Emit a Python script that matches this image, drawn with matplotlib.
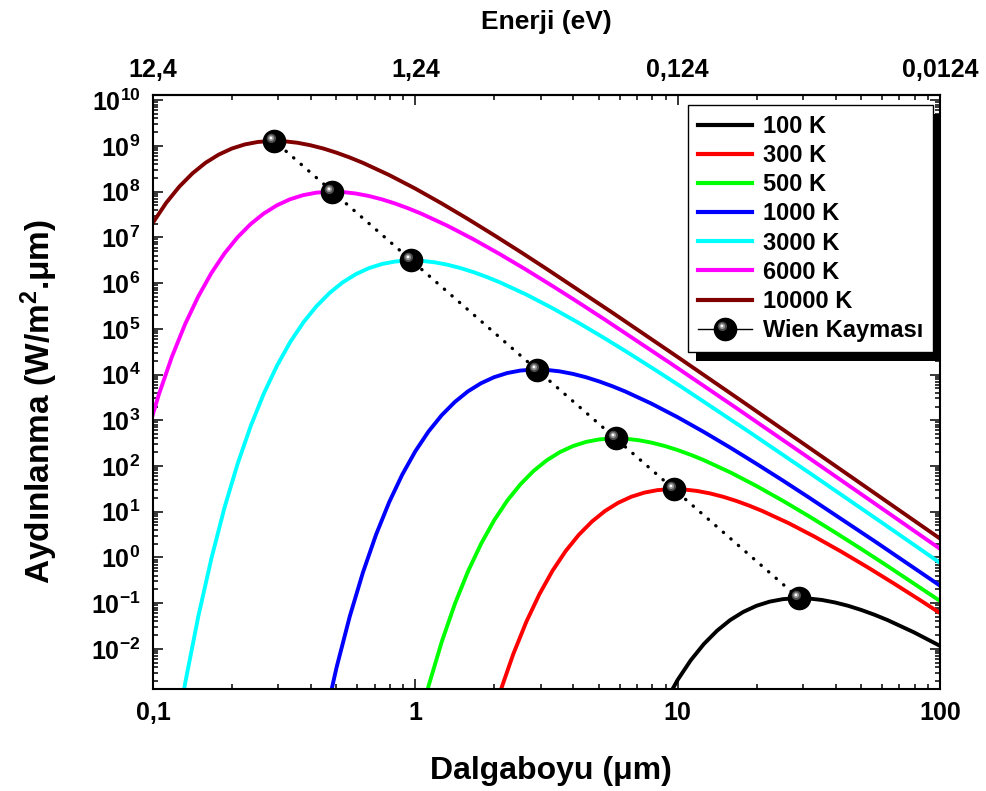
import matplotlib
matplotlib.use("Agg")
import matplotlib.pyplot as plt
import numpy as np
from matplotlib.lines import Line2D
from matplotlib.patches import Rectangle
from matplotlib.path import Path
from matplotlib.ticker import FuncFormatter, LogLocator, NullFormatter

plt.rcParams["font.family"] = ["Liberation Sans", "DejaVu Sans"]
plt.rcParams["font.weight"] = "bold"
plt.rcParams["axes.labelweight"] = "bold"
plt.rcParams["mathtext.fontset"] = "custom"
plt.rcParams["mathtext.rm"] = "Liberation Sans:bold"
plt.rcParams["mathtext.bf"] = "Liberation Sans:bold"
plt.rcParams["mathtext.it"] = "Liberation Sans:bold:italic"

# spectral exitance curves, W/m2.um
WL_100K = [8.913, 10.0, 11.22, 12.59, 14.13, 15.85, 17.78, 19.95, 22.39, 25.12,
           28.18, 31.62, 35.48, 39.81, 44.67, 50.12, 56.23, 63.10, 79.43, 100.0]
M_100K = [6.486e-4, 2.109e-3, 5.675e-3, 1.285e-2, 2.506e-2, 4.276e-2, 6.442e-2,
          8.750e-2, 0.1079, 0.1222, 0.1285, 0.1265, 0.1175, 0.1035, 8.750e-2,
          7.096e-2, 5.585e-2, 4.266e-2, 2.312e-2, 1.164e-2]

WL_300K = [1.874, 2.103, 2.360, 2.648, 2.971, 3.333, 3.740, 4.197, 4.710, 5.283,
           5.927, 6.650, 7.463, 8.373, 9.393, 10.54, 11.83, 13.27, 14.89, 16.71,
           18.74, 21.03, 26.48, 33.33, 41.96, 52.83, 66.51, 83.73, 105.4]
M_300K = [1.249e-4, 1.137e-3, 7.632e-3, 3.914e-2, 0.1576, 0.5130, 1.379, 3.124,
          6.095, 10.38, 15.66, 21.25, 26.19, 29.68, 31.21, 30.72, 28.53, 25.18,
          21.26, 17.26, 13.57, 10.36, 5.618, 2.828, 1.346, 0.6149, 0.2721,
          0.1176, 0.04990]

WL_500K = [1.002, 1.125, 1.262, 1.416, 1.589, 1.783, 2.0, 2.244, 2.518, 2.825,
           3.170, 3.556, 3.990, 4.477, 5.024, 5.636, 6.325, 7.096, 7.962, 8.934,
           10.02, 11.25, 12.62, 15.89, 20.0, 25.18, 31.70, 39.91, 50.24, 63.25,
           112.5]
M_500K = [1.256e-4, 1.606e-3, 1.462e-2, 9.815e-2, 0.5034, 2.027, 6.597, 17.74,
          40.17, 78.43, 133.5, 201.5, 273.3, 336.9, 381.6, 401.3, 395.0, 366.8,
          323.8, 273.4, 222.0, 174.5, 133.2, 72.24, 36.37, 17.31, 7.910, 3.499,
          1.513, 0.6417, 7.131e-2]

WL_1000K = [0.4467, 0.5012, 0.5623, 0.6310, 0.7079, 0.7943, 0.8913, 1.0, 1.122,
            1.259, 1.413, 1.585, 1.778, 1.995, 2.239, 2.512, 2.818, 3.162, 3.548,
            3.981, 4.467, 5.012, 5.623, 6.310, 7.943, 10.0, 12.59, 15.85, 19.95,
            25.12, 31.62, 56.23, 100.0]
M_1000K = [2.158e-4, 4.018e-3, 5.140e-2, 0.4677, 3.141, 16.11, 64.86, 210.9,
           567.5, 1285, 2506, 4276, 6442, 8750, 1.079e4, 1.222e4, 1.285e4,
           1.265e4, 1.175e4, 1.035e4, 8750, 7096, 5585, 4266, 2312, 1164, 553.4,
           252.9, 111.9, 48.42, 20.51, 2.280, 0.2415]

WL_3000K = [0.1183, 0.1327, 0.1489, 0.1671, 0.1874, 0.2103, 0.2360, 0.2648,
            0.2971, 0.3333, 0.3740, 0.4197, 0.4710, 0.5283, 0.5927, 0.6650,
            0.7463, 0.8373, 0.9393, 1.054, 1.183, 1.327, 1.489, 1.671, 1.874,
            2.103, 2.648, 3.333, 4.196, 5.283, 6.651, 8.373, 10.54, 18.74, 33.33,
            59.28, 105.4]
M_3000K = [3.960e-5, 1.830e-3, 5.244e-2, 0.9763, 12.49, 113.7, 763.2, 3914,
           1.576e4, 5.130e4, 1.379e5, 3.124e5, 6.095e5, 1.038e6, 1.566e6,
           2.125e6, 2.619e6, 2.968e6, 3.121e6, 3.072e6, 2.853e6, 2.518e6,
           2.126e6, 1.726e6, 1.357e6, 1.036e6, 5.618e5, 2.828e5, 1.346e5,
           6.149e4, 2.721e4, 1.176e4, 4990, 554.6, 58.75, 6.067, 0.6177]

WL_6000K = [0.09372, 0.1052, 0.1180, 0.1324, 0.1486, 0.1667, 0.1870, 0.2098,
            0.2355, 0.2642, 0.2963, 0.3325, 0.3732, 0.4187, 0.4697, 0.5270,
            0.5913, 0.6635, 0.7445, 0.8353, 0.9372, 1.052, 1.324, 1.667, 2.098,
            2.642, 3.326, 4.187, 5.271, 9.372, 16.67, 29.64, 52.70, 93.72, 166.7]
M_6000K = [399.7, 3637, 2.442e4, 1.253e5, 5.044e5, 1.642e6, 4.413e6, 9.995e6,
           1.951e7, 3.322e7, 5.013e7, 6.801e7, 8.380e7, 9.497e7, 9.986e7,
           9.829e7, 9.130e7, 8.058e7, 6.804e7, 5.526e7, 4.341e7, 3.315e7,
           1.798e7, 9.050e6, 4.308e6, 1.968e6, 8.709e5, 3.764e5, 1.597e5,
           1.775e4, 1881, 194.2, 19.77, 1.997, 0.2009]

WL_10000K = [0.1, 0.1122, 0.1259, 0.1413, 0.1585, 0.1778, 0.1995, 0.2239, 0.2512,
             0.2818, 0.3162, 0.3548, 0.3981, 0.4467, 0.5012, 0.5623, 0.6310,
             0.7943, 1.0, 1.259, 1.585, 1.995, 2.512, 3.162, 5.623, 10.0, 17.78,
             31.62, 56.23, 100.0]
M_10000K = [2.109e7, 5.675e7, 1.285e8, 2.506e8, 4.276e8, 6.442e8, 8.750e8,
            1.079e9, 1.222e9, 1.285e9, 1.265e9, 1.175e9, 1.035e9, 8.750e8,
            7.096e8, 5.585e8, 4.266e8, 2.312e8, 1.164e8, 5.534e7, 2.529e7,
            1.119e7, 4.842e6, 2.051e6, 2.280e5, 2.415e4, 2495, 254.1, 25.64,
            2.582]

# Wien displacement peaks
WIEN_WL = [28.98, 9.66, 5.796, 2.898, 0.966, 0.483, 0.2898]
WIEN_M = [0.1287, 31.27, 402.1, 1.287e4, 3.127e6, 1.001e8, 1.287e9]

LABELS = ["100 K", "300 K", "500 K", "1000 K", "3000 K", "6000 K", "10000 K"]
COLORS = ["#000000", "#ff0000", "#00ff00", "#0000ff", "#00ffff", "#ff00ff", "#800000"]
CURVES = [(WL_100K, M_100K), (WL_300K, M_300K), (WL_500K, M_500K),
          (WL_1000K, M_1000K), (WL_3000K, M_3000K), (WL_6000K, M_6000K),
          (WL_10000K, M_10000K)]

X_TICKS = [0.1, 1, 10, 100]
X_LABELS = ["0,1", "1", "10", "100"]
ENERGY_LABELS = ["12,4", "1,24", "0,124", "0,0124"]
Y_TICKS = [10.0 ** k for k in range(-2, 11)]


def spot_marker(center, radius):
    # the two corner moves fix the marker scale so the spot stays off-centre
    frame = Path([(-1, -1), (1, 1)], [Path.MOVETO, Path.MOVETO])
    return Path.make_compound_path(frame, Path.circle(center, radius))


HL_OUTER = spot_marker((-0.28, 0.28), 0.42)
HL_MID = spot_marker((-0.3, 0.3), 0.26)
HL_INNER = spot_marker((-0.32, 0.32), 0.12)
MS = 16
HL_LAYERS = [(HL_OUTER, "0.3"), (HL_MID, "0.6"), (HL_INNER, "white")]

fig = plt.figure(figsize=(9.86, 7.91), dpi=100)
ax = fig.add_axes([0.1552, 0.129, 0.7982, 0.7509])

for (wl, m), color, label in zip(CURVES, COLORS, LABELS):
    ax.plot(wl, m, color=color, lw=2.8, label=label)

ax.plot(WIEN_WL, WIEN_M, color="black", lw=2.4, ls=(0, (0.1, 2.9)),
        dash_capstyle="round", marker="o", ms=MS, mfc="black", mec="black",
        zorder=4)
for i, (mk, col) in enumerate(HL_LAYERS):
    ax.plot(WIEN_WL, WIEN_M, ls="none", marker=mk, ms=MS, mfc=col, mew=0,
            zorder=4.1 + i * 0.1)

ax.set_xscale("log")
ax.set_yscale("log")
ax.set_xlim(0.1, 100)
ax.set_ylim(1.33e-3, 1.3e10)

ax.set_xticks(X_TICKS, labels=X_LABELS)
ax.set_yticks(Y_TICKS)
ax.yaxis.set_major_formatter(
    FuncFormatter(lambda v, _: r"$\mathbf{10^{%d}}$" % round(np.log10(v))))
ax.yaxis.set_minor_locator(LogLocator(base=10, subs=np.arange(2, 10), numticks=100))
ax.yaxis.set_minor_formatter(NullFormatter())
ax.xaxis.set_minor_formatter(NullFormatter())
ax.tick_params(which="both", direction="in", top=False, right=True,
               labelsize=18, width=1.1)
ax.tick_params(which="major", length=7, pad=9)
ax.tick_params(which="minor", length=3.6)
for sp in ax.spines.values():
    sp.set_linewidth(1.5)

top = ax.secondary_xaxis("top")
top.set_xticks(X_TICKS, labels=ENERGY_LABELS)
top.xaxis.set_minor_formatter(NullFormatter())
top.tick_params(which="both", direction="in", labelsize=18, width=1.1)
top.tick_params(which="major", length=7, pad=9)
top.tick_params(which="minor", length=3.6)
top.spines["top"].set_linewidth(1.5)
top.set_xlabel("Enerji (eV)", fontsize=19, fontweight="bold", labelpad=21)

ax.set_xlabel("Dalgaboyu (μm)", fontsize=23, fontweight="bold", labelpad=22)
ax.set_ylabel("Aydınlanma (W/m$^{\\mathbf{2}}$.μm)", fontsize=24,
              fontweight="bold", labelpad=22)
ax.xaxis.label.set_x(0.505)
ax.yaxis.label.set_y(0.484)

handles = [Line2D([], [], color=c, lw=3) for c in COLORS]
wien_handle = tuple(
    [Line2D([], [], color="black", lw=1, marker="o", ms=MS, mfc="black", mec="black")]
    + [Line2D([], [], ls="none", marker=mk, ms=MS, mfc=col, mew=0)
       for mk, col in HL_LAYERS]
)
leg = ax.legend(handles + [wien_handle], LABELS + ["Wien Kayması"],
                loc="upper right", bbox_to_anchor=(0.991, 0.983),
                borderaxespad=0, fancybox=False, framealpha=1,
                edgecolor="black", fontsize=17, handlelength=2.3,
                handletextpad=0.45, labelspacing=0.26, borderpad=0.42)
leg.get_frame().set_linewidth(1)

# hard drop shadow behind the legend box
fig.canvas.draw()
bb = leg.get_window_extent().transformed(ax.transAxes.inverted())
ax.add_patch(Rectangle((bb.x0 + 8 / 787, bb.y0 - 9 / 594), bb.width, bb.height,
                       transform=ax.transAxes, facecolor="black",
                       edgecolor="none", zorder=4.9, clip_on=False))

fig.savefig("out.png", dpi=100)
